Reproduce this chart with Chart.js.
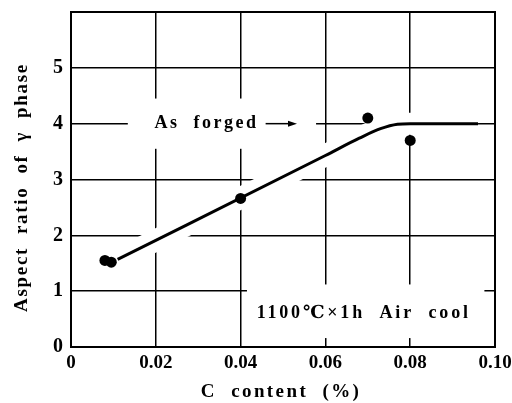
<!DOCTYPE html>
<html>
<head>
<meta charset="utf-8">
<script src="https://cdn.jsdelivr.net/npm/chart.js@4.4.1/dist/chart.umd.min.js"></script>
<style>
    body { margin: 0; background: #fff; }
</style>
</head>
<body>
<canvas id="chart" width="512" height="403"></canvas>
<script>
// measured points (C %, aspect ratio)
const measuredC = [0.008, 0.0095, 0.04, 0.07, 0.08];
const measuredRatio = [1.55, 1.52, 2.66, 4.10, 3.70];

// hand drawn trend line
const trendC = [0.011, 0.06, 0.068, 0.073, 0.077, 0.08, 0.096];
const trendRatio = [1.57, 3.43, 3.74, 3.91, 3.99, 4.0, 4.0];

const xTicks = [0, 0.02, 0.04, 0.06, 0.08, 0.10];
const xTickLabels = ['0', '0.02', '0.04', '0.06', '0.08', '0.10'];
const yTicks = [0, 1, 2, 3, 4, 5];
const yTickLabels = ['0', '1', '2', '3', '4', '5'];

const xTitle = 'C  content  (%)';
const yTitle = 'Aspect  ratio  of  \u03b3  phase';
const noteForged = 'As  forged';
const noteTreat = '1100\u2103\u00d71h  Air  cool';

const serif = "'Liberation Serif', 'DejaVu Serif', serif";

function toPoints(xs, ys) {
    return xs.map((x, i) => ({ x: x, y: ys[i] }));
}

function spacedText(ctx, text, x, y, size, spacing, align) {
    ctx.save();
    ctx.font = 'bold ' + size + 'px ' + serif;
    ctx.letterSpacing = spacing + 'px';
    ctx.fillStyle = '#000';
    ctx.textAlign = align || 'center';
    ctx.textBaseline = 'middle';
    ctx.fillText(text, x, y);
    ctx.restore();
}

// keep the plot box fixed, labels may hang over the edges
function noOverhang(scale) {
    scale.paddingLeft = 0;
    scale.paddingRight = 0;
    scale.paddingTop = 0;
    scale.paddingBottom = 0;
}

const decorations = {
    id: 'decorations',
    beforeDatasetsDraw(chart) {
        const ctx = chart.ctx;
        const xs = chart.scales.x, ys = chart.scales.y;
        ctx.save();
        ctx.fillStyle = '#fff';
        // blank patches behind the notes (gridlines are broken there)
        let x1 = xs.getPixelForValue(0.0134), x2 = xs.getPixelForValue(0.0578);
        let y1 = ys.getPixelForValue(4.45), y2 = ys.getPixelForValue(3.55);
        ctx.fillRect(x1, y1, x2 - x1, y2 - y1);
        x1 = xs.getPixelForValue(0.0415); x2 = xs.getPixelForValue(0.0975);
        y1 = ys.getPixelForValue(1.12); y2 = ys.getPixelForValue(0.16);
        ctx.fillRect(x1, y1, x2 - x1, y2 - y1);
        ctx.restore();
    },
    afterDatasetsDraw(chart) {
        const ctx = chart.ctx;
        const area = chart.chartArea;
        const xs = chart.scales.x, ys = chart.scales.y;

        spacedText(ctx, noteForged, xs.getPixelForValue(0.0197), ys.getPixelForValue(4.0), 18, 2.5, 'left');
        // arrow
        const ay = ys.getPixelForValue(4.0);
        const ax1 = xs.getPixelForValue(0.0459), ax2 = xs.getPixelForValue(0.0533);
        ctx.save();
        ctx.strokeStyle = '#000';
        ctx.fillStyle = '#000';
        ctx.lineWidth = 1.5;
        ctx.beginPath();
        ctx.moveTo(ax1, ay);
        ctx.lineTo(ax2 - 6, ay);
        ctx.stroke();
        ctx.beginPath();
        ctx.moveTo(ax2, ay);
        ctx.lineTo(ax2 - 9, ay - 3);
        ctx.lineTo(ax2 - 9, ay + 3);
        ctx.closePath();
        ctx.fill();
        ctx.restore();

        spacedText(ctx, noteTreat, xs.getPixelForValue(0.0438), ys.getPixelForValue(0.6), 18, 2.8, 'left');

        // frame
        ctx.save();
        ctx.strokeStyle = '#000';
        ctx.lineWidth = 2;
        ctx.strokeRect(area.left, area.top, area.right - area.left, area.bottom - area.top);
        ctx.restore();
    },
    afterDraw(chart) {
        const ctx = chart.ctx;
        const area = chart.chartArea;
        spacedText(ctx, xTitle, (area.left + area.right) / 2 - 2, 392, 19, 2.4);
        ctx.save();
        ctx.translate(22, (area.top + area.bottom) / 2 + 8);
        ctx.rotate(-Math.PI / 2);
        spacedText(ctx, yTitle, 0, 0, 19, 1.7);
        ctx.restore();
    }
};

new Chart(document.getElementById('chart'), {
    type: 'scatter',
    data: {
        datasets: [
            {
                label: 'Measured',
                data: toPoints(measuredC, measuredRatio),
                backgroundColor: '#000',
                borderWidth: 0,
                pointRadius: 5.5,
                order: 0
            },
            {
                label: 'Trend',
                data: toPoints(trendC, trendRatio),
                showLine: true,
                borderColor: '#000',
                borderWidth: 3,
                cubicInterpolationMode: 'monotone',
                pointRadius: 0,
                order: 1
            },
            {
                // white halo so gridlines break round the curve
                label: 'Halo',
                data: toPoints(trendC, trendRatio),
                showLine: true,
                borderColor: '#fff',
                borderWidth: 22,
                borderCapStyle: 'butt',
                cubicInterpolationMode: 'monotone',
                pointRadius: 0,
                order: 2
            }
        ]
    },
    options: {
        responsive: false,
        animation: false,
        layout: {
            padding: { top: 12, right: 17, left: 0, bottom: 0 }
        },
        plugins: {
            legend: { display: false },
            tooltip: { enabled: false }
        },
        scales: {
            x: {
                type: 'linear',
                min: 0,
                max: 0.1,
                afterBuildTicks: scale => { scale.ticks = xTicks.map(v => ({ value: v })); },
                afterFit: scale => { scale.height = 56; noOverhang(scale); },
                grid: { color: '#000', lineWidth: 1.5, drawTicks: false },
                border: { color: '#000', width: 2 },
                ticks: {
                    color: '#000',
                    padding: 5,
                    maxRotation: 0,
                    font: { family: serif, size: 19, weight: 'bold' },
                    callback: (v, i) => xTickLabels[i]
                }
            },
            y: {
                type: 'linear',
                min: 0,
                max: 6,
                afterBuildTicks: scale => { scale.ticks = yTicks.map(v => ({ value: v })); },
                afterFit: scale => { scale.width = 71; noOverhang(scale); },
                grid: { color: '#000', lineWidth: 1.5, drawTicks: false },
                border: { color: '#000', width: 2 },
                ticks: {
                    color: '#000',
                    padding: 8,
                    font: { family: serif, size: 20, weight: 'bold' },
                    callback: (v, i) => yTickLabels[i]
                }
            }
        }
    },
    plugins: [decorations]
});
</script>
</body>
</html>
